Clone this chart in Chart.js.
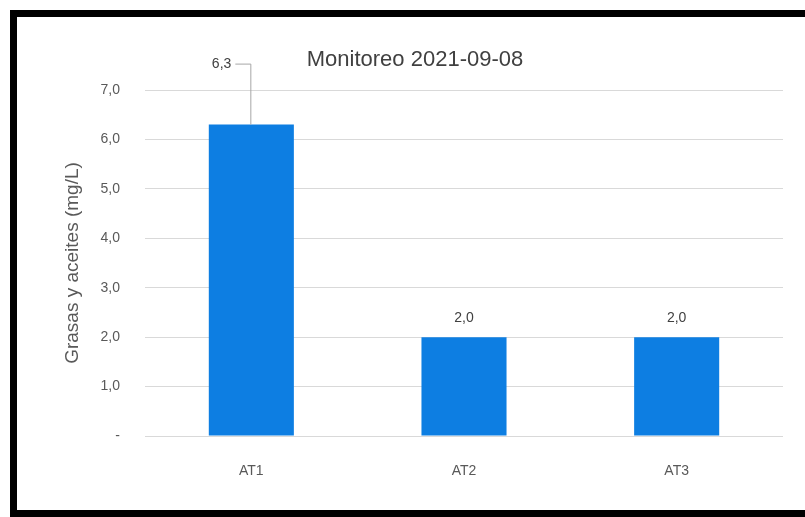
<!DOCTYPE html>
<html>
<head>
<meta charset="utf-8">
<script src="https://cdn.jsdelivr.net/npm/chart.js@4.4.0/dist/chart.umd.min.js"></script>
<style>
    html, body { margin: 0; padding: 0; background: #fff; overflow: hidden; width: 805px; height: 517px; }
    #frame {
        position: absolute;
        left: 10px;
        top: 10px;
        width: 788px;
        height: 493px;
        border: 7px solid #000;
        border-right: none;
        background: #fff;
        overflow: hidden;
    }
    #chartBox { position: absolute; left: 0; top: 0; width: 788px; height: 496px; }
</style>
</head>
<body>
<div id="frame">
    <div id="chartBox"><canvas id="grasasChart"></canvas></div>
</div>
<script>
const chartTitle = 'Monitoreo 2021-09-08';
const categories = ['AT1', 'AT2', 'AT3'];
const grasasAceites = [6.3, 2.0, 2.0];
const yTickLabels = ['-', '1,0', '2,0', '3,0', '4,0', '5,0', '6,0', '7,0'];

const fontFamily = '"Liberation Sans", Arial, sans-serif';

// etiquetas de valor y título dibujados sobre el canvas
const barLabels = {
    id: 'barLabels',
    afterDatasetsDraw(chart, args, opts) {
        const ctx = chart.ctx;
        const meta = chart.getDatasetMeta(0);
        ctx.save();
        ctx.font = '14px ' + fontFamily;
        ctx.fillStyle = '#404040';
        meta.data.forEach((bar, i) => {
            const txt = grasasAceites[i].toFixed(1).replace('.', ',');
            if (opts.callout.includes(i)) {
                const topY = bar.y - 61;
                ctx.strokeStyle = '#a6a6a6';
                ctx.lineWidth = 1;
                ctx.beginPath();
                ctx.moveTo(bar.x - 0.5, bar.y);
                ctx.lineTo(bar.x - 0.5, topY + 0.5);
                ctx.lineTo(bar.x - 16, topY + 0.5);
                ctx.stroke();
                ctx.textAlign = 'right';
                ctx.textBaseline = 'middle';
                ctx.fillText(txt, bar.x - 20, topY + 1);
            } else {
                ctx.textAlign = 'center';
                ctx.textBaseline = 'middle';
                ctx.fillText(txt, bar.x, bar.y - 19);
            }
        });
        // título
        ctx.font = '22px ' + fontFamily;
        ctx.fillStyle = '#404040';
        ctx.textAlign = 'center';
        ctx.textBaseline = 'middle';
        ctx.fillText(chartTitle, chart.width / 2 + 4, 43);
        ctx.restore();
    }
};

const ctx = document.getElementById('grasasChart').getContext('2d');
new Chart(ctx, {
    type: 'bar',
    data: {
        labels: categories,
        datasets: [{
            label: 'Grasas y aceites',
            data: grasasAceites,
            backgroundColor: '#0d7ee2',
            borderWidth: 0,
            categoryPercentage: 1,
            barPercentage: 0.4
        }]
    },
    options: {
        responsive: true,
        maintainAspectRatio: false,
        animation: false,
        layout: { padding: { top: 73, right: 22, bottom: 0, left: 0 } },
        plugins: {
            legend: { display: false },
            tooltip: { enabled: false },
            barLabels: { callout: [0] }
        },
        scales: {
            x: {
                grid: { display: false },
                border: { display: false },
                ticks: {
                    color: '#595959',
                    padding: 19,
                    font: { family: fontFamily, size: 14 }
                },
                afterFit(scale) { scale.height = 77; }
            },
            y: {
                min: 0,
                max: 7,
                grid: { color: '#d9d9d9', lineWidth: 1, drawTicks: false },
                border: { display: false },
                ticks: {
                    stepSize: 1,
                    color: '#595959',
                    padding: 25,
                    font: { family: fontFamily, size: 14 },
                    callback: (value, index) => yTickLabels[index]
                },
                title: {
                    display: true,
                    text: 'Grasas y aceites (mg/L)',
                    color: '#595959',
                    padding: { top: 44, bottom: 0 },
                    font: { family: fontFamily, size: 19 }
                },
                afterFit(scale) { scale.width = 128; }
            }
        }
    },
    plugins: [barLabels]
});
</script>
</body>
</html>
